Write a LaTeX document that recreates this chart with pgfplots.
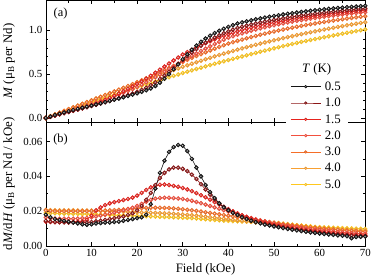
\documentclass[border=0pt]{standalone}
\usepackage{fontspec}
\setmainfont{Liberation Serif}
\usepackage{pgfplots}
\usepackage{pgfplotstable}
\pgfplotsset{compat=1.18}
\definecolor{c05}{RGB}{20,20,20}
\definecolor{c10}{RGB}{140,22,22}
\definecolor{c15}{RGB}{230,35,30}
\definecolor{c20}{RGB}{242,80,62}
\definecolor{c30}{RGB}{245,110,40}
\definecolor{c40}{RGB}{248,160,50}
\definecolor{c50}{RGB}{255,200,30}

\pgfplotstableread{
H t05 t10 t15 t20 t30 t40 t50
0 0.0180 0.0145 0.0140 0.0165 0.0205 0.0208 0.0190
1 0.0165 0.0140 0.0138 0.0160 0.0202 0.0206 0.0189
2 0.0155 0.0138 0.0137 0.0158 0.0200 0.0205 0.0188
3 0.0150 0.0137 0.0137 0.0157 0.0200 0.0205 0.0187
4 0.0145 0.0136 0.0138 0.0157 0.0200 0.0205 0.0186
5 0.0140 0.0135 0.0138 0.0157 0.0200 0.0205 0.0186
6 0.0135 0.0135 0.0139 0.0157 0.0200 0.0205 0.0185
7 0.0130 0.0135 0.0140 0.0158 0.0200 0.0204 0.0185
8 0.0125 0.0135 0.0142 0.0160 0.0200 0.0204 0.0184
9 0.0122 0.0135 0.0150 0.0162 0.0200 0.0204 0.0184
10 0.0125 0.0138 0.0175 0.0165 0.0201 0.0204 0.0183
11 0.0130 0.0142 0.0205 0.0170 0.0202 0.0203 0.0182
12 0.0132 0.0146 0.0222 0.0175 0.0203 0.0202 0.0181
13 0.0135 0.0150 0.0235 0.0180 0.0204 0.0201 0.0180
14 0.0135 0.0155 0.0245 0.0186 0.0205 0.0200 0.0179
15 0.0138 0.0160 0.0252 0.0192 0.0206 0.0199 0.0178
16 0.0140 0.0165 0.0258 0.0198 0.0208 0.0198 0.0177
17 0.0145 0.0170 0.0264 0.0205 0.0210 0.0197 0.0176
18 0.0150 0.0178 0.0270 0.0212 0.0212 0.0196 0.0175
19 0.0155 0.0188 0.0278 0.0220 0.0214 0.0195 0.0174
20 0.0160 0.0205 0.0290 0.0230 0.0216 0.0194 0.0173
21 0.0165 0.0230 0.0305 0.0242 0.0218 0.0193 0.0172
22 0.0180 0.0265 0.0322 0.0255 0.0219 0.0192 0.0171
23 0.0240 0.0305 0.0337 0.0265 0.0220 0.0191 0.0170
24 0.0330 0.0350 0.0347 0.0272 0.0220 0.0190 0.0169
25 0.0420 0.0390 0.0352 0.0276 0.0220 0.0189 0.0168
26 0.0490 0.0420 0.0353 0.0277 0.0219 0.0188 0.0167
27 0.0540 0.0440 0.0350 0.0277 0.0218 0.0187 0.0166
28 0.0568 0.0450 0.0345 0.0275 0.0216 0.0185 0.0165
29 0.0580 0.0450 0.0340 0.0273 0.0214 0.0183 0.0164
30 0.0575 0.0443 0.0333 0.0270 0.0211 0.0181 0.0163
31 0.0545 0.0430 0.0325 0.0265 0.0208 0.0179 0.0162
32 0.0500 0.0410 0.0315 0.0260 0.0205 0.0177 0.0160
33 0.0450 0.0385 0.0304 0.0253 0.0202 0.0175 0.0158
34 0.0400 0.0355 0.0292 0.0246 0.0198 0.0172 0.0156
35 0.0350 0.0325 0.0280 0.0238 0.0194 0.0169 0.0154
36 0.0310 0.0295 0.0266 0.0230 0.0190 0.0166 0.0152
37 0.0275 0.0268 0.0252 0.0222 0.0186 0.0163 0.0150
38 0.0245 0.0245 0.0238 0.0214 0.0182 0.0160 0.0148
39 0.0222 0.0225 0.0225 0.0206 0.0178 0.0157 0.0146
40 0.0205 0.0208 0.0212 0.0198 0.0174 0.0154 0.0145
41 0.0190 0.0193 0.0200 0.0190 0.0170 0.0151 0.0143
42 0.0178 0.0180 0.0188 0.0182 0.0166 0.0148 0.0142
43 0.0165 0.0168 0.0177 0.0175 0.0162 0.0145 0.0141
44 0.0155 0.0158 0.0167 0.0168 0.0158 0.0142 0.0140
45 0.0145 0.0148 0.0158 0.0161 0.0154 0.0139 0.0139
46 0.0137 0.0140 0.0150 0.0154 0.0150 0.0136 0.0138
47 0.0130 0.0133 0.0142 0.0148 0.0146 0.0133 0.0137
48 0.0123 0.0127 0.0135 0.0142 0.0142 0.0130 0.0136
49 0.0118 0.0121 0.0128 0.0136 0.0138 0.0127 0.0135
50 0.0113 0.0116 0.0122 0.0131 0.0134 0.0124 0.0134
51 0.0108 0.0111 0.0117 0.0126 0.0130 0.0122 0.0132
52 0.0103 0.0106 0.0112 0.0121 0.0126 0.0120 0.0129
53 0.0098 0.0102 0.0107 0.0117 0.0123 0.0118 0.0126
54 0.0094 0.0098 0.0103 0.0113 0.0120 0.0116 0.0123
55 0.0090 0.0094 0.0099 0.0109 0.0117 0.0114 0.0120
56 0.0086 0.0090 0.0095 0.0105 0.0114 0.0112 0.0118
57 0.0082 0.0087 0.0091 0.0101 0.0111 0.0110 0.0115
58 0.0078 0.0083 0.0088 0.0098 0.0108 0.0108 0.0113
59 0.0075 0.0080 0.0085 0.0095 0.0105 0.0106 0.0110
60 0.0072 0.0077 0.0082 0.0092 0.0102 0.0104 0.0108
61 0.0069 0.0074 0.0079 0.0089 0.0099 0.0102 0.0107
62 0.0066 0.0072 0.0076 0.0086 0.0097 0.0100 0.0106
63 0.0064 0.0069 0.0074 0.0084 0.0095 0.0098 0.0105
64 0.0061 0.0067 0.0071 0.0081 0.0093 0.0097 0.0104
65 0.0059 0.0065 0.0069 0.0079 0.0091 0.0095 0.0103
66 0.0057 0.0063 0.0067 0.0077 0.0089 0.0094 0.0102
67 0.0045 0.0060 0.0065 0.0075 0.0087 0.0092 0.0101
68 0.0052 0.0059 0.0063 0.0073 0.0085 0.0091 0.0100
69 0.0053 0.0058 0.0062 0.0071 0.0083 0.0090 0.0099
70 0.0055 0.0057 0.0060 0.0070 0.0082 0.0089 0.0098
}\tabD

\pgfplotstableread{
H t05 t10 t15 t20 t30 t40 t50
0 0 0 0 0 0 0 0
1 0.0173 0.0143 0.0139 0.0163 0.0204 0.0204 0.0183
2 0.0333 0.0282 0.0277 0.0322 0.0405 0.0406 0.0364
3 0.0485 0.0419 0.0414 0.0479 0.0605 0.0608 0.0545
4 0.0633 0.0556 0.0551 0.0636 0.0805 0.0810 0.0724
5 0.0775 0.0691 0.0689 0.0793 0.1005 0.1012 0.0903
6 0.0913 0.0826 0.0828 0.0950 0.1205 0.1214 0.1082
7 0.1045 0.0961 0.0967 0.1108 0.1405 0.1415 0.1260
8 0.1173 0.1096 0.1108 0.1267 0.1605 0.1616 0.1438
9 0.1297 0.1231 0.1254 0.1428 0.1805 0.1817 0.1615
10 0.1420 0.1368 0.1417 0.1591 0.2005 0.2018 0.1792
11 0.1548 0.1508 0.1607 0.1759 0.2207 0.2219 0.1967
12 0.1679 0.1652 0.1820 0.1931 0.2409 0.2418 0.2142
13 0.1812 0.1800 0.2049 0.2109 0.2613 0.2617 0.2316
14 0.1947 0.1952 0.2289 0.2292 0.2817 0.2814 0.2489
15 0.2084 0.2110 0.2537 0.2481 0.3023 0.3011 0.2661
16 0.2223 0.2272 0.2792 0.2676 0.3230 0.3206 0.2832
17 0.2365 0.2440 0.3053 0.2877 0.3439 0.3401 0.3002
18 0.2513 0.2614 0.3320 0.3086 0.3650 0.3594 0.3171
19 0.2665 0.2797 0.3594 0.3302 0.3863 0.3787 0.3339
20 0.2823 0.2993 0.3878 0.3527 0.4078 0.3978 0.3506
21 0.2985 0.3211 0.4176 0.3793 0.4310 0.4169 0.3672
22 0.3158 0.3458 0.4489 0.4071 0.4543 0.4359 0.3837
23 0.3368 0.3743 0.4819 0.4361 0.4778 0.4547 0.4001
24 0.3653 0.4071 0.5161 0.4660 0.5013 0.4735 0.4164
25 0.4028 0.4441 0.5510 0.4964 0.5248 0.4922 0.4327
26 0.4483 0.4846 0.5863 0.5270 0.5482 0.5107 0.4488
27 0.4998 0.5276 0.6214 0.5577 0.5716 0.5292 0.4648
28 0.5552 0.5721 0.6562 0.5883 0.5948 0.5475 0.4808
29 0.6126 0.6171 0.6904 0.6187 0.6178 0.5656 0.4966
30 0.6704 0.6617 0.7241 0.6489 0.6405 0.5836 0.5124
31 0.7264 0.7054 0.7515 0.6786 0.6630 0.6013 0.5280
32 0.7786 0.7474 0.7782 0.7079 0.6851 0.6188 0.5435
33 0.8261 0.7871 0.8041 0.7365 0.7070 0.6362 0.5588
34 0.8686 0.8241 0.8290 0.7645 0.7285 0.6533 0.5739
35 0.9061 0.8581 0.8529 0.7917 0.7496 0.6700 0.5889
36 0.9391 0.8891 0.8756 0.8181 0.7703 0.6865 0.6036
37 0.9684 0.9173 0.8973 0.8437 0.7906 0.7028 0.6182
38 0.9944 0.9429 0.9177 0.8685 0.8105 0.7187 0.6325
39 1.0177 0.9664 0.9371 0.8925 0.8300 0.7343 0.6467
40 1.0391 0.9881 0.9553 0.9157 0.8491 0.7496 0.6607
41 1.0588 1.0081 0.9725 0.9331 0.8646 0.7646 0.6745
42 1.0772 1.0268 0.9887 0.9497 0.8798 0.7793 0.6883
43 1.0903 1.0409 1.0040 0.9655 0.8945 0.7938 0.7019
44 1.1027 1.0541 1.0183 0.9807 0.9088 0.8079 0.7154
45 1.1144 1.0665 1.0319 0.9951 0.9228 0.8217 0.7288
46 1.1253 1.0781 1.0447 1.0089 0.9363 0.8353 0.7422
47 1.1356 1.0892 1.0569 1.0220 0.9494 0.8485 0.7554
48 1.1454 1.0998 1.0685 1.0345 0.9622 0.8615 0.7686
49 1.1547 1.1098 1.0795 1.0464 0.9745 0.8741 0.7816
50 1.1637 1.1194 1.0899 1.0577 0.9864 0.8865 0.7946
51 1.1722 1.1285 1.0999 1.0686 0.9980 0.8986 0.8074
52 1.1805 1.1374 1.1094 1.0789 1.0091 0.9105 0.8199
53 1.1882 1.1458 1.1186 1.0888 1.0198 0.9223 0.8322
54 1.1957 1.1539 1.1273 1.0983 1.0304 0.9338 0.8442
55 1.2028 1.1617 1.1358 1.1074 1.0405 0.9451 0.8559
56 1.2096 1.1691 1.1439 1.1161 1.0504 0.9562 0.8674
57 1.2161 1.1762 1.1516 1.1244 1.0600 0.9672 0.8786
58 1.2223 1.1831 1.1591 1.1324 1.0693 0.9779 0.8896
59 1.2283 1.1898 1.1664 1.1400 1.0782 0.9884 0.9003
60 1.2339 1.1961 1.1733 1.1474 1.0870 0.9988 0.9108
61 1.2394 1.2022 1.1801 1.1544 1.0953 1.0089 0.9212
62 1.2446 1.2081 1.1865 1.1612 1.1034 1.0189 0.9314
63 1.2497 1.2138 1.1928 1.1677 1.1114 1.0286 0.9416
64 1.2546 1.2193 1.1988 1.1739 1.1191 1.0382 0.9516
65 1.2592 1.2247 1.2047 1.1799 1.1266 1.0477 0.9616
66 1.2637 1.2299 1.2103 1.1857 1.1340 1.0570 0.9715
67 1.2677 1.2349 1.2158 1.1913 1.1411 1.0662 0.9813
68 1.2714 1.2397 1.2212 1.1967 1.1480 1.0752 0.9909
69 1.2755 1.2444 1.2264 1.2019 1.1548 1.0841 1.0005
70 1.2797 1.2491 1.2315 1.2070 1.1614 1.0929 1.0100
}\tabM

\pgfplotsset{
  mystyle/.style={
    scale only axis, width=323pt, xmin=0, xmax=70,
    xtick={0,10,...,70}, minor x tick num=1,
    tick align=inside, major tick length=4pt, minor tick length=2.5pt,
    tick style={line width=0.6pt, black},
    axis line style={line width=0.7pt},
    clip=false,
    tick label style={font=\fontsize{11}{13}\selectfont},
    label style={font=\fontsize{13}{15}\selectfont},
    /pgf/number format/assume math mode=true,
    ylabel style={at={(axis description cs:-0.115,0.5)}, anchor=center},
  },
  ser/.style={line width=0.6pt, color=#1, mark=ball, mark size=2pt,
    mark options={ball color=#1}},
}

\begin{document}
\begin{tikzpicture}
\begin{axis}[mystyle, name=top, height=123pt,
  ymin=-0.045, ymax=1.342, ytick={0,0.5,1.0}, minor y tick num=4,
  xticklabels={},
  yticklabel style={/pgf/number format/.cd, fixed, fixed zerofill, precision=1},
  ylabel={\textit{M} (μ\textsubscript{B} per Nd)}]
\addplot[ser=c50] table[x=H, y=t50] \tabM;
\addplot[ser=c40] table[x=H, y=t40] \tabM;
\addplot[ser=c30] table[x=H, y=t30] \tabM;
\addplot[ser=c20] table[x=H, y=t20] \tabM;
\addplot[ser=c15] table[x=H, y=t15] \tabM;
\addplot[ser=c10] table[x=H, y=t10] \tabM;
\addplot[ser=c05] table[x=H, y=t05] \tabM;
\node[font=\fontsize{12.5}{14}\selectfont] at (rel axis cs:0.046,0.894) {(a)};
\node[font=\fontsize{13}{15}\selectfont] at (rel axis cs:0.848,0.431) {\textit{T} (K)};
\end{axis}
\begin{axis}[mystyle, at={(top.south west)}, anchor=north west, height=125.5pt,
  ymin=0, ymax=0.0712, ytick={0,0.02,0.04,0.06}, minor y tick num=1,
  scaled y ticks=false,
  yticklabel style={/pgf/number format/.cd, fixed, fixed zerofill, precision=2},
  xlabel={Field (kOe)},
  ylabel={d\textit{M}/d\textit{H} (μ\textsubscript{B} per Nd / kOe)},
  reverse legend, legend cell align=left,
  legend image code/.code={\draw[mark repeat=2,mark phase=2,#1,mark size=1.3pt] plot coordinates {(0pt,0pt) (15pt,0pt) (30pt,0pt)};},
  legend style={at={(0.848,0.89)}, anchor=center, draw=none, fill=white,
    font=\fontsize{13}{15}\selectfont, inner sep=5pt, row sep=2pt, column sep=2pt,
    nodes={inner sep=2pt, text height=9pt, text depth=1.5pt}}]
\addplot[ser=c50] table[x=H, y=t50] \tabD; \addlegendentry{5.0}
\addplot[ser=c40] table[x=H, y=t40] \tabD; \addlegendentry{4.0}
\addplot[ser=c30] table[x=H, y=t30] \tabD; \addlegendentry{3.0}
\addplot[ser=c20] table[x=H, y=t20] \tabD; \addlegendentry{2.0}
\addplot[ser=c15] table[x=H, y=t15] \tabD; \addlegendentry{1.5}
\addplot[ser=c10] table[x=H, y=t10] \tabD; \addlegendentry{1.0}
\addplot[ser=c05] table[x=H, y=t05] \tabD; \addlegendentry{0.5}
\node[font=\fontsize{12.5}{14}\selectfont] at (rel axis cs:0.046,0.857) {(b)};
\end{axis}
\end{tikzpicture}
\end{document}
